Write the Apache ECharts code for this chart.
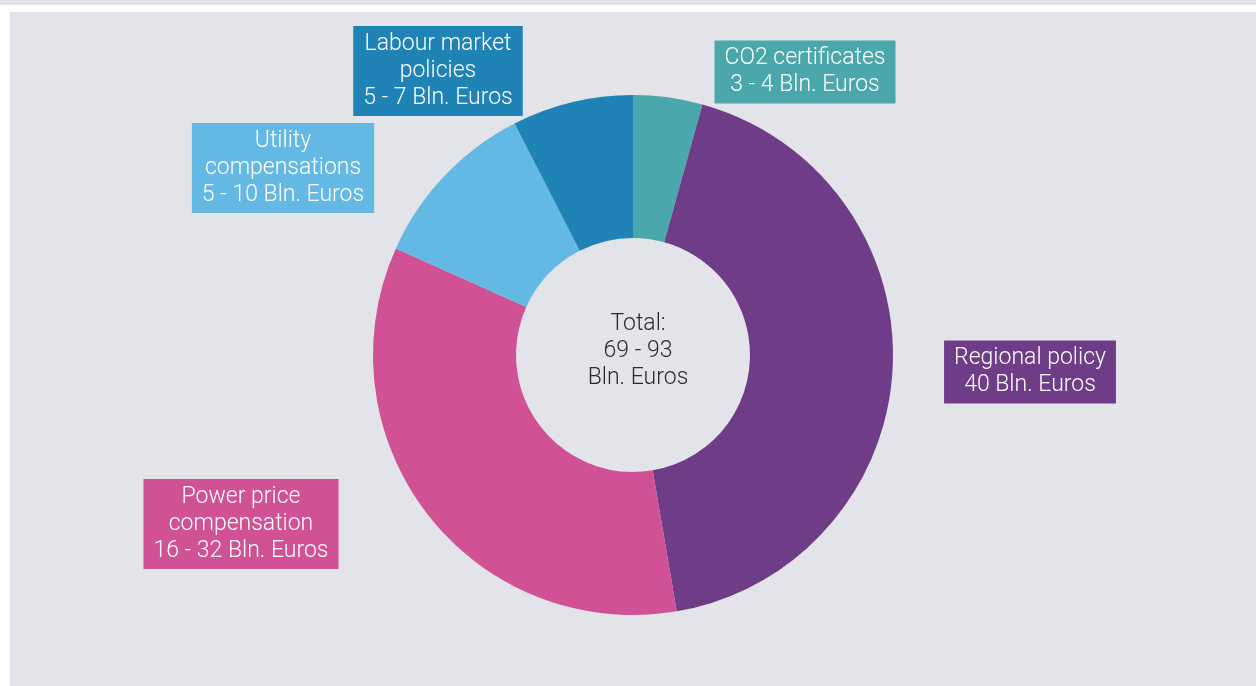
<!DOCTYPE html>
<html>
<head>
<meta charset="utf-8">
<script src="https://cdn.jsdelivr.net/npm/echarts@6/dist/echarts.min.js"></script>
<style>
  html, body { margin: 0; padding: 0; background: #fff; }
  .top-strip { position: absolute; left: 0; top: 0; width: 1256px; height: 5px; background: #e3e4e9; }
  #chart { position: absolute; left: 10px; top: 12px; width: 1246px; height: 674px; background: #e3e4e9; }
</style>
</head>
<body>
<div class="top-strip"></div>
<div id="chart"></div>
<script>
const categories = ['CO2 certificates', 'Regional policy', 'Power price\ncompensation', 'Utility\ncompensations', 'Labour market\npolicies']
const rangeText = ['3 - 4 Bln. Euros', '40 Bln. Euros', '16 - 32 Bln. Euros', '5 - 10 Bln. Euros', '5 - 7 Bln. Euros']
const values = [4, 40, 32, 10, 7]
const colors = ['#4aa8ac', '#6f3c87', '#d05294', '#63b8e4', '#1f83b5']
const totalText = 'Total:\n69 - 93\nBln. Euros'

// label box centres (chart coords)
const labelPos = [[795, 60], [1020, 360], [231, 512], [273, 156], [428, 59]]

const chart = echarts.init(document.getElementById('chart'))

const option = {
  backgroundColor: '#e3e4e9',
  textStyle: { fontFamily: 'Roboto', fontWeight: 300 },
  graphic: [{
    type: 'text',
    x: 628,
    y: 339,
    style: {
      text: totalText,
      align: 'center',
      verticalAlign: 'middle',
      fill: '#2b2b2b',
      font: '300 23px Roboto',
      lineHeight: 27
    }
  }],
  series: [{
    type: 'pie',
    center: [623, 343],
    radius: [117, 260],
    startAngle: 90,
    clockwise: true,
    silent: true,
    labelLine: { show: false },
    label: {
      show: true,
      position: 'outside',
      formatter: p => p.name + '\n' + rangeText[p.dataIndex],
      color: '#fff',
      fontSize: 23,
      fontWeight: 300,
      fontFamily: 'Roboto',
      lineHeight: 27,
      align: 'center',
      padding: [5, 10, 4, 10]
    },
    labelLayout: p => ({
      x: labelPos[p.dataIndex][0],
      y: labelPos[p.dataIndex][1],
      align: 'center',
      verticalAlign: 'middle',
      hideOverlap: false
    }),
    data: values.map((v, i) => ({
      name: categories[i],
      value: v,
      itemStyle: { color: colors[i] },
      label: { backgroundColor: colors[i] }
    }))
  }]
}

chart.setOption(option)
</script>
</body>
</html>
